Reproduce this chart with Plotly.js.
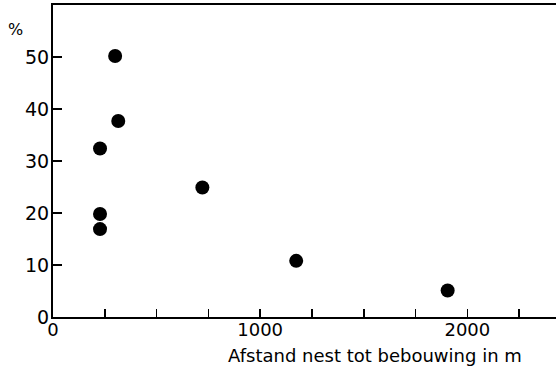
<!DOCTYPE html>
<html>
<head>
<meta charset="utf-8">
<script src="https://cdn.plot.ly/plotly-3.0.1.min.js"></script>
<style>html,body{margin:0;padding:0;background:#fff;}#chart{width:556px;height:372px;}</style>
</head>
<body>
<div id="chart"></div>
<script>
var distance = [300, 315, 227, 227, 227, 721, 1174, 1905];
var percent = [50.2, 37.7, 32.4, 19.8, 16.9, 24.9, 10.8, 5.1];
var xTickVals = [0, 1000, 2000];
var xTickText = ['0', '1000', '2000'];
var yTickVals = [0, 10, 20, 30, 40, 50];
var yTickText = ['0', '10', '20', '30', '40', '50'];
var xTitle = 'Afstand nest tot bebouwing in m';
var yTitle = '%';

var fam = 'DejaVu Sans, sans-serif';

var trace = {
  x: distance, y: percent, type: 'scatter', mode: 'markers',
  marker: {color: '#000', size: 14}, hoverinfo: 'skip'
};

var layout = {
  width: 556, height: 372,
  margin: {l: 53, r: 0, t: 5, b: 55},
  paper_bgcolor: '#fff', plot_bgcolor: '#fff',
  showlegend: false,
  font: {family: fam, size: 18, color: '#000'},
  xaxis: {
    range: [0, 2428], showgrid: false, zeroline: false,
    showline: true, mirror: true, linecolor: '#000', linewidth: 2,
    tickmode: 'array', tickvals: xTickVals, ticktext: xTickText,
    ticks: 'inside', ticklen: 8, tickwidth: 1.5, tickcolor: '#000',
    minor: {dtick: 250, tick0: 0, ticks: 'inside', ticklen: 8, tickwidth: 1.5, tickcolor: '#000'},
    tickfont: {family: fam, size: 18, color: '#000'}, ticklabelstandoff: -5
  },
  yaxis: {
    range: [0, 60], showgrid: false, zeroline: false,
    showline: true, linecolor: '#000', linewidth: 2,
    tickmode: 'array', tickvals: yTickVals, ticktext: yTickText,
    ticks: 'inside', ticklen: 9, tickwidth: 1.5, tickcolor: '#000',
    tickfont: {family: fam, size: 19, color: '#000'}, ticklabelstandoff: -2
  },
  annotations: [
    {text: yTitle, xref: 'paper', yref: 'paper', x: -53/503, y: 1, xanchor: 'left', yanchor: 'top',
     xshift: 6, yshift: -13, showarrow: false, font: {family: fam, size: 16, color: '#000'}},
    {text: xTitle, xref: 'paper', yref: 'paper', x: 375/503 - 53/503, y: 0, xanchor: 'center', yanchor: 'top',
     yshift: -26, showarrow: false, font: {family: fam, size: 18, color: '#000'}}
  ]
};

Plotly.newPlot('chart', [trace], layout, {displayModeBar: false, staticPlot: true});
</script>
</body>
</html>
